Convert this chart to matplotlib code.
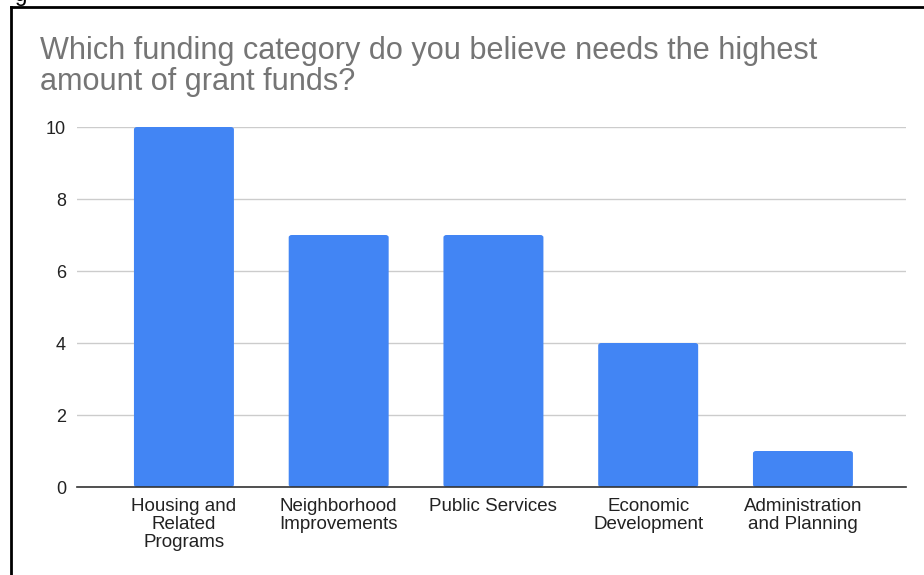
import matplotlib.pyplot as plt
from matplotlib.patches import FancyBboxPatch

categories = ["Housing and\nRelated\nPrograms", "Neighborhood\nImprovements",
              "Public Services", "Economic\nDevelopment", "Administration\nand Planning"]
values = [10, 7, 7, 4, 1]
yticks = [0, 2, 4, 6, 8, 10]

plt.rcParams['font.family'] = ['Liberation Sans', 'DejaVu Sans']

fig = plt.figure(figsize=(9.24, 5.75), dpi=100)
W, H = 924, 575

# outer frame (cropped screenshot, only left and top edges visible)
fig.add_artist(plt.Line2D([11 / W, 11 / W], [0, 1 - 7 / H], color='black', lw=2))
fig.add_artist(plt.Line2D([11 / W, 1], [1 - 7 / H, 1 - 7 / H], color='black', lw=2))
fig.text(14 / W, 1 - 1 / H, "g", fontsize=16, color='black', va='baseline')

ax = fig.add_axes([77 / W, 1 - 487 / H, (906 - 77) / W, (487 - 127) / H])
for i, v in enumerate(values):
    ax.add_patch(FancyBboxPatch((i - 0.323, 0), 0.646, v,
                                boxstyle="round,pad=0,rounding_size=0.02",
                                mutation_aspect=1 / 0.3,
                                facecolor='#4285f4', edgecolor='none', zorder=3))
ax.set_xlim(-0.691, 4.666)
ax.set_ylim(0, 10)
ax.set_yticks(yticks)
ax.set_yticklabels([str(t) for t in yticks], fontsize=13, color='#222222')
ax.set_xticks(range(len(categories)))
ax.set_xticklabels(categories, fontsize=13.5, color='#222222', linespacing=1.06)
ax.tick_params(length=0, pad=8)
ax.tick_params(axis='x', pad=8)
ax.grid(axis='y', color='#cccccc', lw=1, zorder=0)
for s in ['top', 'right', 'left']:
    ax.spines[s].set_visible(False)
ax.spines['bottom'].set_color('#333333')
ax.spines['bottom'].set_linewidth(1.2)
ax.spines['bottom'].set_zorder(4)

fig.text(40 / W, 1 - 36 / H,
         "Which funding category do you believe needs the highest\namount of grant funds?",
         fontsize=22.1, color='#757575', va='top', linespacing=1.06)

fig.savefig("out.png", dpi=100)
